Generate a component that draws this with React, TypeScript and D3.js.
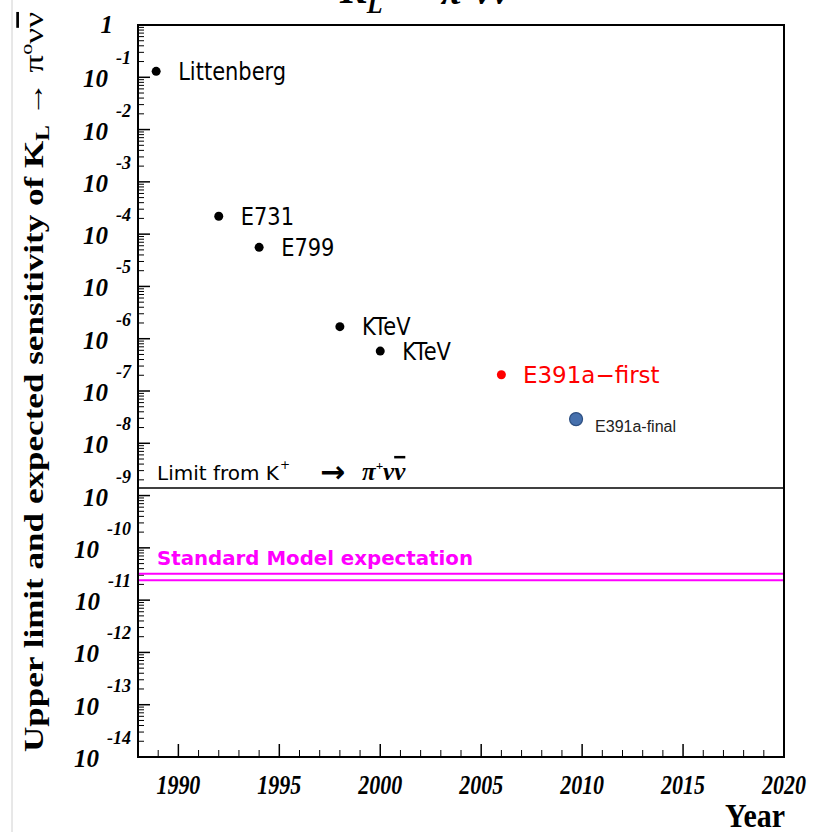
import * as d3 from "d3";

// measurements (upper limits / sensitivity) by year
const years = [1988.9, 1992, 1994, 1998, 2000, 2006, 2009.7];
const limits = [0.13, 2.2e-4, 5.6e-5, 1.7e-6, 5.8e-7, 2.05e-7, 2.9e-8];
const names = ["Littenberg", "E731", "E799", "KTeV", "KTeV", "E391a\u2212first", "E391a-final"];
const kinds = ["old", "old", "old", "old", "old", "first", "final"];

const chargedLimit = 1.4e-9; // from K+ -> pi+ nu nubar
const smBand = [2.4e-11, 3.2e-11];

const yearMajor = [1990, 1995, 2000, 2005, 2010, 2015, 2020];
const decades = d3.range(0, -15, -1);

const width = 827;
const height = 832;
const left = 138;
const right = 784;
const top = 25;
const bottom = 757;

const serif = "'Liberation Serif', 'Times New Roman', serif";
const sans = "'DejaVu Sans', sans-serif";

export default function App() {
  const x = d3.scaleLinear([1988, 2020], [left, right]);
  const y = d3.scaleLog([1, 1e-14], [top, bottom]);

  const minorY = d3.range(-14, 0).flatMap((e) => d3.range(2, 10).map((k) => k * 10 ** e));
  const minorX = d3.range(1988, 2021).filter((v) => v % 5 !== 0);

  return (
    <svg width={width} height={height} style={{ position: "absolute", left: 0, top: 0, background: "#fff" }}>
      <line x1={12} x2={12} y1={0} y2={height} stroke="#d0d0d0" strokeWidth={1} />

      {/* title, mostly cut off at the top */}
      <text x={340} y={3} fontFamily={serif} fontWeight="bold" fontStyle="italic" fontSize={40}>
        K<tspan fontSize={26} dy={10}>L</tspan>
        <tspan dy={-22} dx={14} fontSize={36}>{"\u2192"}</tspan>
        <tspan dx={8} dy={13}>{"\u03C0"}</tspan>
        <tspan fontSize={24} dy={-14}>0</tspan>
        <tspan dy={14}>{"\u03BD\u03BD"}</tspan>
      </text>

      {/* y axis title */}
      <g transform="translate(43,752) rotate(-90) scale(1.3,1)">
        <text fontFamily={serif} fontWeight="bold" fontSize={27}>
          Upper limit and expected sensitivity of K
          <tspan fontSize={18} dy={6}>L</tspan>
          <tspan dy={-6} fontWeight="normal">{" \u2192 \u03C0"}</tspan>
          <tspan fontSize={17} dy={-11} fontWeight="normal">o</tspan>
          <tspan dy={11} fontWeight="normal">{"\u03BD"}</tspan>
          <tspan fontWeight="normal" textDecoration="overline">{"\u03BD"}</tspan>
        </text>
      </g>

      {/* y ticks */}
      {decades.map((e) => (
        <line key={"M" + e} x1={left} x2={left + 12} y1={y(10 ** e)} y2={y(10 ** e)} stroke="#000" strokeWidth={1.5} />
      ))}
      {minorY.map((v, i) => (
        <line key={"m" + i} x1={left} x2={left + 6} y1={y(v)} y2={y(v)} stroke="#000" strokeWidth={1} />
      ))}
      {decades.map((e) =>
        e === 0 ? (
          <text key={"l" + e} x={113} y={y(1) + 8} textAnchor="end" fontFamily={serif} fontWeight="bold" fontStyle="italic" fontSize={25}>
            1
          </text>
        ) : (
          <text key={"l" + e} x={131} y={y(10 ** e) + 10} textAnchor="end" fontFamily={serif} fontWeight="bold" fontStyle="italic" fontSize={25}>
            10
            <tspan dx={8} dy={-23} fontSize={18}>
              {String(e)}
            </tspan>
          </text>
        )
      )}

      {/* x ticks */}
      {yearMajor.map((v) => (
        <line key={"X" + v} x1={x(v)} x2={x(v)} y1={bottom} y2={bottom - 13} stroke="#000" strokeWidth={1.5} />
      ))}
      {minorX.map((v) => (
        <line key={"x" + v} x1={x(v)} x2={x(v)} y1={bottom} y2={bottom - 7} stroke="#000" strokeWidth={1} />
      ))}
      {yearMajor.map((v) => (
        <g key={"xl" + v} transform={`translate(${x(v)},794) scale(1,1.2)`}>
          <text textAnchor="middle" fontFamily={serif} fontWeight="bold" fontStyle="italic" fontSize={22}>
            {v}
          </text>
        </g>
      ))}
      <g transform="translate(785,827) scale(1,1.15)">
        <text textAnchor="end" fontFamily={serif} fontWeight="bold" fontSize={30}>
          Year
        </text>
      </g>

      {/* reference lines */}
      <line x1={left} x2={right} y1={y(chargedLimit)} y2={y(chargedLimit)} stroke="#000" strokeWidth={1.5} />
      <g fontFamily={sans} fontSize={20}>
        <text x={157} y={y(chargedLimit) - 8}>Limit from K</text>
        <text x={280} y={y(chargedLimit) - 19} fontSize={12}>+</text>
        <text x={320} y={y(chargedLimit) - 6} fontSize={30} fontWeight="bold">{"\u2192"}</text>
        <text x={362} y={y(chargedLimit) - 8} fontFamily={serif} fontWeight="bold" fontStyle="italic" fontSize={25}>
          {"\u03C0"}
          <tspan fontSize={13} dy={-10}>+</tspan>
          <tspan dy={10}>{"\u03BD"}</tspan>
          <tspan textDecoration="overline">{"\u03BD"}</tspan>
        </text>
      </g>
      {smBand.map((v) => (
        <line key={"sm" + v} x1={left} x2={right} y1={y(v)} y2={y(v)} stroke="#ff00ff" strokeWidth={2} />
      ))}
      <text x={157} y={y(smBand[1]) - 9} fill="#ff00ff" fontFamily={sans} fontWeight="bold" fontSize={19} textLength={316} lengthAdjust="spacingAndGlyphs">
        Standard Model expectation
      </text>

      {/* points */}
      {years.map((yr, i) => {
        const cx = x(yr);
        const cy = y(limits[i]);
        const k = kinds[i];
        if (k === "final") {
          return (
            <g key={"p" + i}>
              <circle cx={cx} cy={cy} r={6.5} fill="#4670ad" stroke="#2d4f82" strokeWidth={1.2} />
              <text x={cx + 19} y={cy + 12.5} fill="#222" fontFamily="'Liberation Sans', Arial, sans-serif" fontSize={16}>
                {names[i]}
              </text>
            </g>
          );
        }
        const color = k === "first" ? "#ff0000" : "#000";
        return (
          <g key={"p" + i}>
            <circle cx={cx} cy={cy} r={4.5} fill={color} />
            {k === "first" ? (
              <text x={cx + 21.5} y={cy + 8.3} fill={color} fontFamily={sans} fontSize={23}>
                {names[i]}
              </text>
            ) : (
              <g transform={`translate(${cx + 22},${cy + 8.5}) scale(1,1.15)`}>
                <text fill={color} fontFamily={sans} fontSize={21}>
                  {names[i]}
                </text>
              </g>
            )}
          </g>
        );
      })}

      {/* frame */}
      <rect x={left} y={top} width={right - left} height={bottom - top} fill="none" stroke="#000" strokeWidth={2} />
    </svg>
  );
}
